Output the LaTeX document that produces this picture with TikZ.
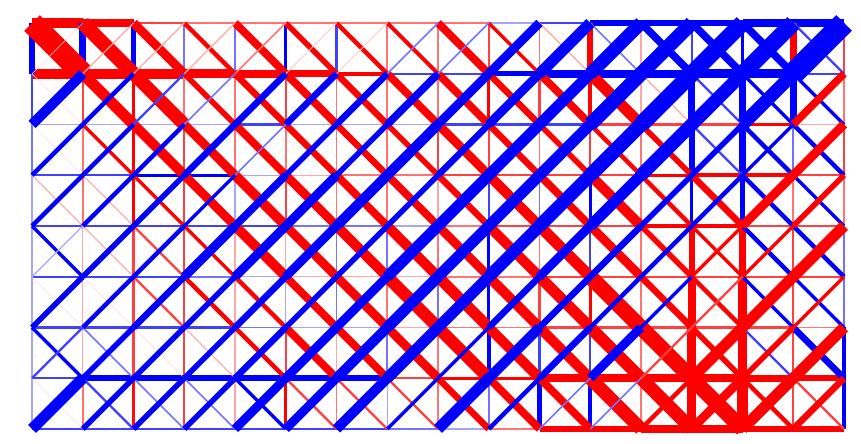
\documentclass[tikz,border=0pt]{standalone}
\usepackage{xcolor}
\usepackage{tikz}
\usetikzlibrary{calc}
\definecolor{tens}{RGB}{255,0,0}
\definecolor{comp}{RGB}{0,0,255}
\tikzset{
  member/.style={line cap=butt, line join=miter}
}
% signed bar width in px: + tension (red), - compression (blue)
\newcommand{\drawmember}[3]{%
  \pgfmathsetmacro{\mw}{abs(#3)}%
  \pgfmathtruncatemacro{\ms}{max(12,min(100,-5+40*\mw))}%
  \ifdim #3pt<0pt \def\mc{comp}\else\def\mc{tens}\fi
  \draw[member, draw=\mc!\ms!white, line width=\mw*0.62pt] (#1) -- (#2);
}

\begin{document}
\begin{tikzpicture}
  \useasboundingbox (-0.631,-8.296) rectangle (16.335,0.453);

  % Grid joints
  \foreach \i in {0,...,16}
    \foreach \j in {0,...,8}
      \coordinate (n-\i-\j) at (\i,-\j);

  % Horizontal bars
  \foreach \row [count=\j from 0] in {
    {9,7,2,1.5,1.5,1.5,1.5,1.5,1.5,-1,-2,-5,-5,-6,-7,-8},
    {9,9,9,8,7,6,4,-2,-2,-5,-7,-7,-7,-8,-8,-2},
    {-1,-1,-1,-1,-2,-1,-1,-1,-2,-2,-2,2,2,2,3,1},
    {-2,-2,-3,-3,-1,1,1.5,1.5,2,2,2,2,3,4,4,2},
    {-2,-2,-2,-2,-2,-1.5,-1.5,-1,1.5,2,2,2,3,3,2,2},
    {-2,-2,-2,-1.5,-1,1,1,1,1.5,1.5,2,2,2,2,2,2},
    {-2,-2,-2,-2,-1.5,-1,-1,1,1.5,1.5,2,2,2,2,2,1.5},
    {-2,-5,-5,-5,-5,-5,-5,2,3,3,7,7,7,7,6,5},
    {-2,-2,-2,-2,-2,-2,-2,-1.5,-1,1.5,6,6,7,7,6,6}} {
    \foreach \w [count=\i from 0] in \row {
      \pgfmathtruncatemacro{\ii}{\i+1}
      \drawmember{n-\i-\j}{n-\ii-\j}{\w}
    }
  }

  % Vertical bars
  \foreach \row [count=\j from 0] in {
    {-6,-6,-4,-1.5,-1.5,-3,-2,1.5,1.5,2,1.5,5,1,-2,-3,6,2},
    {-2,2,3,1.5,1.5,2,1.5,1.5,1.5,3,2,4,1,-6,-7,-6,1.5},
    {-1.5,1.5,3,2,1.5,1.5,1.5,1.5,2,2,1.5,2,1.5,-5,-7,-1.5,2},
    {-1,1.5,3,2,-1,2,1.5,1.5,1,-2,-1.5,-3,1.5,-3,-5,1.5,1.5},
    {-1,1,2,2,1,1,-1.5,-1.5,1.5,-3,1.5,-2,1.5,5,6,2,-1.5},
    {-1,1,2,2,1,-1,-1.5,1.5,-1.5,-3,2,3,1.5,7,8,2,-1.5},
    {-1,1,2,2,1,2,1,-1.5,1.5,-4,-2,-2,1.5,8,9,2,-4},
    {-1,1.5,2.5,2,1,3,1.5,-1,1.5,-1.5,-4,-4,1.5,8,10,2,-4}} {
    \foreach \w [count=\i from 0] in \row {
      \pgfmathtruncatemacro{\jj}{\j+1}
      \drawmember{n-\i-\j}{n-\i-\jj}{\w}
    }
  }

  % Diagonals falling to the right
  \foreach \row [count=\j from 0] in {
    {20,13,8,4,7,5,4,3.5,7,3,1,-1.5,-7,-7,-7,-2},
    {0.5,10,12,5,6,7,6,7,7,6,7,10,1,-2,-3,-3},
    {0.5,3,9,8,7,6,6,5,8,6,5,4,5,-2,-4,-4},
    {1,1,3,8,9,8,7,7,6,9,7,9,4,6,-4,-3},
    {-3,1,2,3,9,8,9,9,8,9,10,8,5,3,-4,-4},
    {0.5,0.5,2,4,4,7,8,11,10,9,10,14,6,4,-3,-3},
    {-3,-1.5,0.5,1,4,7,7,8,11,9,9,11,14,5,-2,-6},
    {0.5,-2,-1.5,-1.5,-3,2,2,2,6,7,7,12,12,14,4,2}} {
    \foreach \w [count=\i from 0] in \row {
      \pgfmathtruncatemacro{\ii}{\i+1}
      \pgfmathtruncatemacro{\jj}{\j+1}
      \drawmember{n-\i-\j}{n-\ii-\jj}{\w}
    }
  }

  % Diagonals rising to the right
  \foreach \row [count=\j from 0] in {
    {0.5,1,1,1,1.5,0.7,0.7,-1.5,-1.5,-8,-10,-12,-13,-15,-15,-20},
    {-9,-4,-2,-1.5,-6,-6,-6,-7,-8,-8,-10,-13,-15,-12,-12,7},
    {-4,-4,-4,-6,-1.5,-5,-5,-9,-6,-10,-10,-13,-12,-5,-3,8},
    {-4,-4,-5,-3,-7,-8,-9,-5,-10,-10,-12,-10,-5,-4,8,5},
    {-1,-5,-4,-8,-8,-8,-5,-10,-10,-11,-8,-6,-4,3,3,10},
    {-5,-4,-6,-5,-6,-5,-8,-10,-10,-6,-6,-4,-3,2,10,3},
    {-2,-5,-5,-5,-6,-8,-9,-10,-3,-9,-6,-8,2,10,5,10},
    {-10,-5,-5,-5,-8,-8,-9,-3,-10,-4,-1.5,-1.5,4,8,10,6}} {
    \foreach \w [count=\i from 0] in \row {
      \pgfmathtruncatemacro{\ii}{\i+1}
      \pgfmathtruncatemacro{\jj}{\j+1}
      \drawmember{n-\i-\jj}{n-\ii-\j}{\w}
    }
  }
\end{tikzpicture}
\end{document}
